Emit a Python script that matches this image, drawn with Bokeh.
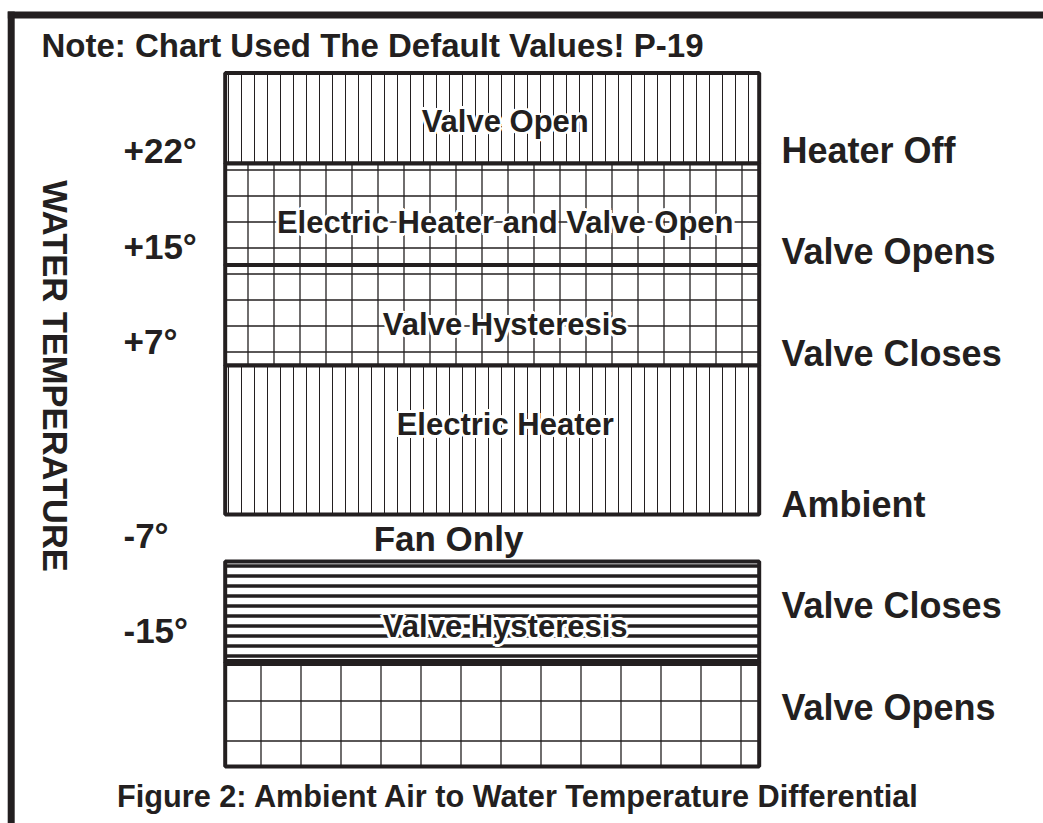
from bokeh.plotting import figure
from bokeh.models import Range1d, ColumnDataSource, Label
from bokeh.core.properties import value
from bokeh.embed import file_html
from bokeh.resources import INLINE

# ---- data (chart units = reference pixels) ----
band_names = ["Valve Open", "Electric Heater and Valve Open", "Valve Hysteresis",
              "Electric Heater", "Valve Hysteresis", ""]
band_top = [72.5, 163.0, 264.5, 365.0, 561.0, 662.0]
band_bottom = [163.0, 264.5, 365.0, 514.0, 662.0, 766.0]
band_left = [224.7] * 6
band_right = [758.7] * 6
band_label_y = [121.2, 222.2, 324.2, 423.5, 625.8, 707.0]

left_ticks = ["+22°", "+15°", "+7°", "-7°", "-15°"]
left_tick_y = [150.0, 245.5, 340.5, 534.5, 630.0]

right_labels = ["Heater Off", "Valve Opens", "Valve Closes", "Ambient",
                "Valve Closes", "Valve Opens"]
right_label_y = [150.0, 251.3, 352.8, 504.2, 605.0, 707.0]

title_text = "Note: Chart Used The Default Values! P-19"
caption_text = "Figure 2: Ambient Air to Water Temperature Differential"
axis_text = "WATER TEMPERATURE"
gap_text = "Fan Only"

# ---- styles ----
INK = "#231f20"
FONT = "Liberation Sans"
hatch_patterns = ["vertical_line", "cross", "cross", "vertical_line", "horizontal_line", "cross"]
hatch_scales = [13, 26, 26, 13, 10, 40]
hatch_weights = [1.0, 1.3, 1.3, 1.0, 3.5, 1.3]

p = figure(width=1043, height=823, x_range=Range1d(0, 1043), y_range=Range1d(823, 0),
           output_backend="svg", toolbar_location=None, min_border=0)
p.axis.visible = False
p.grid.visible = False
p.outline_line_color = None
p.background_fill_color = "white"
p.border_fill_color = "white"

# outer frame (left and top edges of the page border)
p.segment(x0=[7.3, 10.7], y0=[14.5, 11.0], x1=[1043.0, 10.7], y1=[14.5, 823.0],
          line_color=INK, line_width=7)

src = ColumnDataSource(dict(
    left=band_left, right=band_right, top=band_top, bottom=band_bottom,
    hp=hatch_patterns, hs=hatch_scales, hw=hatch_weights,
    name=band_names, ly=band_label_y,
    cx=[(a + b) / 2 + 13 for a, b in zip(band_left, band_right)],
))
p.quad(left="left", right="right", top="top", bottom="bottom", source=src,
       fill_color="white", hatch_pattern="hp", hatch_scale="hs", hatch_weight="hw",
       hatch_color=INK, line_color=INK, line_width=4)
# thick separator between the lower hysteresis band and the valve-open band
p.segment(x0=[band_left[4]], x1=[band_right[4]], y0=[band_bottom[4]], y1=[band_bottom[4]],
          line_color=INK, line_width=7)

# white halo behind band labels (same text drawn in white at small offsets)
halo = 3
for dx, dy in [(-halo, 0), (halo, 0), (0, -halo), (0, halo),
               (-2, -2), (2, -2), (-2, 2), (2, 2)]:
    p.text(x="cx", y="ly", text="name", source=src, text_font=value(FONT),
           text_font_style="bold", text_font_size="31px", text_color="white",
           text_align="center", text_baseline="middle", x_offset=dx, y_offset=dy)
p.text(x="cx", y="ly", text="name", source=src, text_font=value(FONT),
       text_font_style="bold", text_font_size="31px", text_color=INK,
       text_align="center", text_baseline="middle")

p.text(x=[123.0] * len(left_ticks), y=left_tick_y, text=left_ticks, text_font=value(FONT),
       text_font_style="bold", text_font_size="35px", text_color=INK,
       text_align="left", text_baseline="middle")
p.text(x=[781.0] * len(right_labels), y=right_label_y, text=right_labels, text_font=value(FONT),
       text_font_style="bold", text_font_size="36px", text_color=INK,
       text_align="left", text_baseline="middle")

p.add_layout(Label(x=41, y=44.5, text=title_text, text_font=FONT, text_font_style="bold",
                   text_font_size="33px", text_color=INK, text_align="left",
                   text_baseline="middle"))
p.add_layout(Label(x=518, y=796.3, text=caption_text, text_font=FONT, text_font_style="bold",
                   text_font_size="30.7px", text_color=INK, text_align="center",
                   text_baseline="middle"))
p.add_layout(Label(x=448, y=538.3, text=gap_text, text_font=FONT, text_font_style="bold",
                   text_font_size="35px", text_color=INK, text_align="center",
                   text_baseline="middle"))
p.add_layout(Label(x=54, y=375.5, text=axis_text, text_font=FONT, text_font_style="bold",
                   text_font_size="34.5px", text_color=INK, text_align="center",
                   text_baseline="middle", angle=-90, angle_units="deg"))

open("out.html", "w").write(file_html(p, INLINE))
